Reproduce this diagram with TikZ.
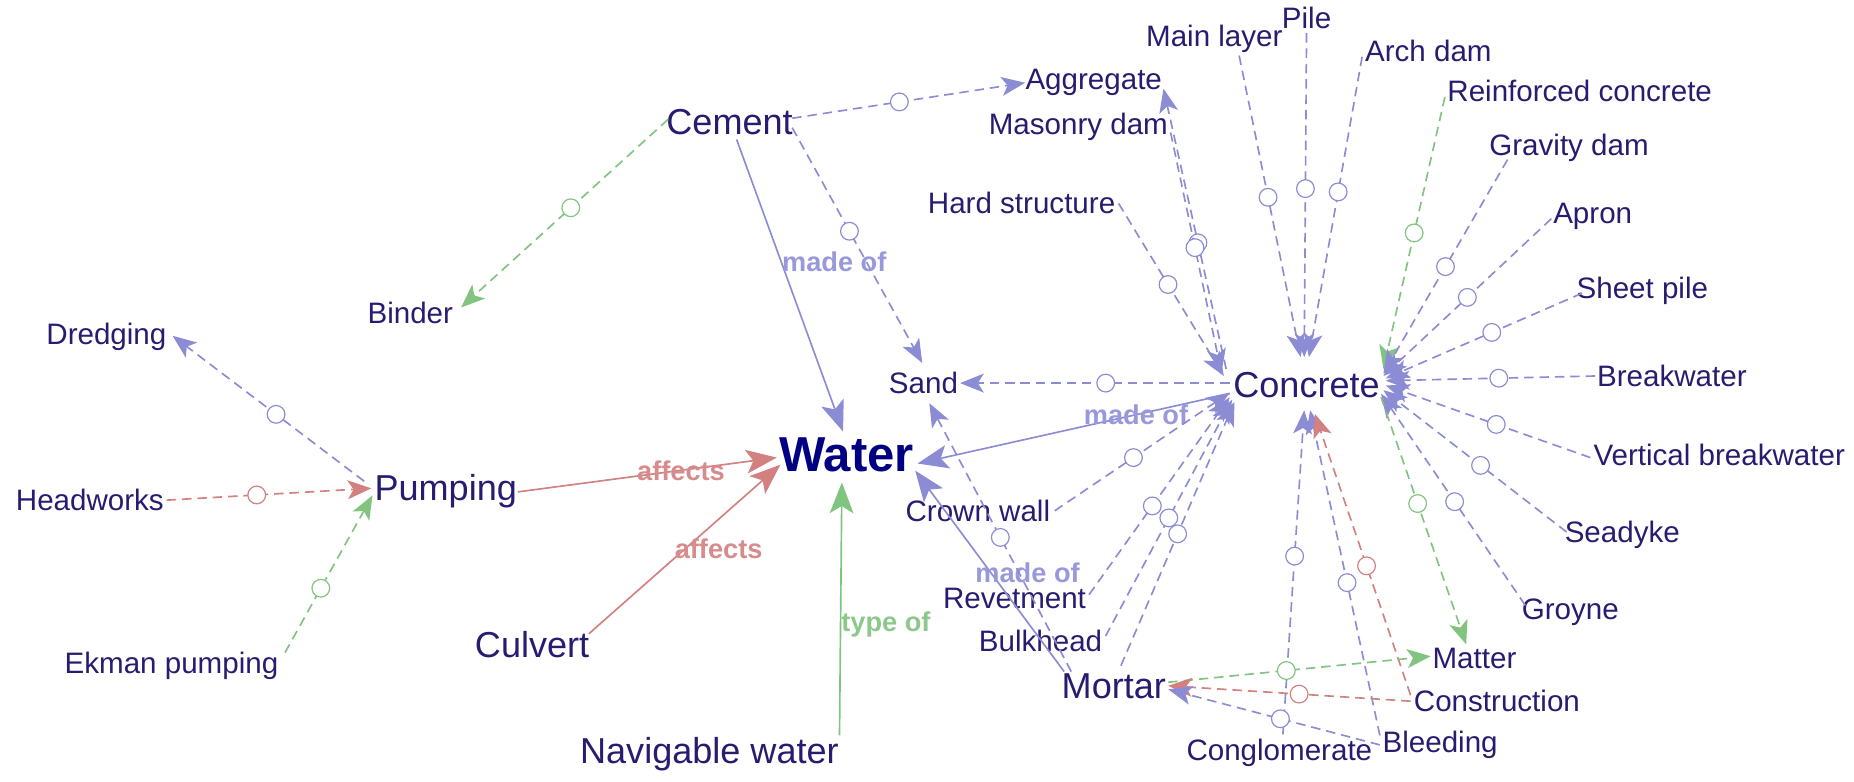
\documentclass[tikz,border=0pt]{standalone}
\usepackage{fontspec}
\setmainfont{Liberation Sans}
\usetikzlibrary{arrows.meta}
\definecolor{ink}{RGB}{40,28,112}
\definecolor{navy}{RGB}{0,0,128}
\definecolor{lav}{RGB}{140,140,212}
\definecolor{grn}{RGB}{128,196,128}
\definecolor{rd}{RGB}{210,128,128}
\definecolor{lavtxt}{RGB}{152,152,218}
\definecolor{grntxt}{RGB}{140,200,140}
\definecolor{rdtxt}{RGB}{214,140,140}
\begin{document}
\begin{tikzpicture}[x=1pt,y=-1pt,
  term/.style={text=ink, font=\fontsize{25}{27}\selectfont, inner sep=1pt},
  bigterm/.style={text=ink, font=\fontsize{30.5}{32}\selectfont, inner sep=1pt},
  hub/.style={text=navy, font=\fontsize{41.5}{43}\selectfont\bfseries, inner sep=1pt},
  rel/.style={draw=#1, line width=1.4pt, dash pattern=on 8pt off 5pt,
    -{Stealth[length=20pt,width=16pt,inset=5pt]}},
  link/.style={draw=#1, line width=1.4pt,
    -{Stealth[length=26pt,width=20pt,inset=6pt]}},
  mk/.style={circle, draw=#1, solid, fill=white, line width=1pt, inner sep=0pt, minimum size=15pt},
  elab/.style={text=#1, font=\fontsize{23}{25}\selectfont\bfseries, inner sep=0pt}
]
\useasboundingbox (0,0) rectangle (1568,661);

% ---- terms ----
\node[term]    (dredging)     at (90,285)   {Dredging};
\node[term]    (headworks)    at (76,423)   {Headworks};
\node[term]    (ekman)        at (145,563)  {Ekman pumping};
\node[bigterm] (pumping)      at (377,415)  {Pumping};
\node[term]    (binder)       at (347,265)  {Binder};
\node[bigterm] (cement)       at (617,103)  {Cement};
\node[bigterm] (culvert)      at (450,545)  {Culvert};
\node[bigterm] (navwater)     at (600,638)  {Navigable water};
\node[hub]     (water)        at (716,385)  {Water};
\node[term]    (aggregate)    at (925,70)   {Aggregate};
\node[term]    (masonry)      at (912,107)  {Masonry dam};
\node[term]    (hardstr)      at (864,172)  {Hard structure};
\node[term]    (sand)         at (781,324)  {Sand};
\node[term]    (mainlayer)    at (1027,33)  {Main layer};
\node[term]    (pile)         at (1105,15)  {Pile};
\node[term]    (archdam)      at (1208,43)  {Arch dam};
\node[term]    (reinf)        at (1336,77)  {Reinforced concrete};
\node[term]    (gravity)      at (1327,125) {Gravity dam};
\node[term]    (apron)        at (1347,183) {Apron};
\node[term]    (sheetpile)    at (1389,246) {Sheet pile};
\node[term]    (breakwater)   at (1414,318) {Breakwater};
\node[term]    (vertbw)       at (1454,385) {Vertical breakwater};
\node[term]    (seadyke)      at (1372,452) {Seadyke};
\node[term]    (groyne)       at (1328,518) {Groyne};
\node[bigterm] (concrete)     at (1105,326) {Concrete};
\node[term]    (crownwall)    at (827,432)  {Crown wall};
\node[term]    (revetment)    at (858,506)  {Revetment};
\node[term]    (bulkhead)     at (880,542)  {Bulkhead};
\node[bigterm] (mortar)       at (942,580)  {Mortar};
\node[term]    (matter)       at (1247,557) {Matter};
\node[term]    (construction) at (1266,593) {Construction};
\node[term]    (conglomerate) at (1082,637) {Conglomerate};
\node[term]    (bleeding)     at (1218,630) {Bleeding};

% ---- pumping cluster ----
\draw[rel=lav] ([shift={(-69,-8)}]pumping.center) -- node[mk=lav,pos=.46]{} ([shift={(56,-1)}]dredging.center);
\draw[rel=rd]  ([shift={(65,0)}]headworks.center) -- node[mk=rd,pos=.44]{} ([shift={(-63,-2)}]pumping.center);
\draw[rel=grn] ([shift={(96,-11)}]ekman.center) -- node[mk=grn,pos=.41]{} ([shift={(-62,4)}]pumping.center);

% ---- cement ----
\draw[rel=grn] ([shift={(-52,-2)}]cement.center) -- node[mk=grn,pos=.47]{} ([shift={(43,-5)}]binder.center);
\draw[rel=lav] ([shift={(53,-3)}]cement.center) -- node[mk=lav,pos=.46]{} ([shift={(-58,0)}]aggregate.center);
\draw[rel=lav] ([shift={(53,5)}]cement.center) -- node[mk=lav,pos=.44]{} ([shift={(-1,-17)}]sand.center);

% ---- links into Water ----
\draw[link=lav] ([shift={(6,15)}]cement.center) -- node[elab=lavtxt,pos=.42,anchor=west]{made of} ([shift={(-3,-20)}]water.center);
\draw[link=rd]  ([shift={(61,1)}]pumping.center) -- node[elab=rdtxt,pos=.63]{affects} ([shift={(-59,2)}]water.center);
\draw[link=rd]  ([shift={(48,-9)}]culvert.center) -- node[elab=rdtxt,pos=.5,anchor=west,xshift=-9pt]{affects} ([shift={(-56,8)}]water.center);
\draw[link=grn] ([shift={(110,-16)}]navwater.center) -- node[elab=grntxt,pos=.44,anchor=west]{type of} ([shift={(-4,23)}]water.center);
\draw[link=lav] ([shift={(-65,7)}]concrete.center) -- node[elab=lavtxt,pos=.3]{made of} ([shift={(60,7)}]water.center);
\draw[link=lav] ([shift={(-42,-12)}]mortar.center) -- node[elab=lavtxt,pos=.49,anchor=west,xshift=-14pt]{made of} ([shift={(58,13)}]water.center);

% ---- Sand ----
\draw[rel=lav] ([shift={(-65,-2)}]concrete.center) -- node[mk=lav,pos=.46]{} ([shift={(31,0)}]sand.center);
\draw[rel=lav] ([shift={(-36,-12)}]mortar.center) -- node[mk=lav,pos=.5]{} ([shift={(5,17)}]sand.center);

% ---- into Concrete from above / left ----
\draw[rel=lav] ([shift={(-68,-14)}]concrete.center) -- node[mk=lav,pos=.45]{} ([shift={(59,5)}]aggregate.center);
\draw[rel=lav] ([shift={(78,5)}]masonry.center) -- node[mk=lav,pos=.48]{} ([shift={(-72,-11)}]concrete.center);
\draw[rel=lav] ([shift={(82,0)}]hardstr.center) -- node[mk=lav,pos=.47]{} ([shift={(-70,-8)}]concrete.center);
\draw[rel=lav] ([shift={(21,14)}]mainlayer.center) -- node[mk=lav,pos=.47]{} ([shift={(-5,-24)}]concrete.center);
\draw[rel=lav] ([shift={(0,13)}]pile.center) -- node[mk=lav,pos=.48]{} ([shift={(-2,-24)}]concrete.center);
\draw[rel=lav] ([shift={(-56,5)}]archdam.center) -- node[mk=lav,pos=.45]{} ([shift={(2,-24)}]concrete.center);

% ---- into Concrete from the right ----
\draw[rel=grn] ([shift={(-114,5)}]reinf.center) -- node[mk=grn,pos=.5]{} ([shift={(65,-14)}]concrete.center);
\draw[rel=lav] ([shift={(-52,10)}]gravity.center) -- node[mk=lav,pos=.5]{} ([shift={(65,-10)}]concrete.center);
\draw[rel=lav] ([shift={(-35,2)}]apron.center) -- node[mk=lav,pos=.5]{} ([shift={(65,-8)}]concrete.center);
\draw[rel=lav] ([shift={(-51,2)}]sheetpile.center) -- node[mk=lav,pos=.46]{} ([shift={(67,-6)}]concrete.center);
\draw[rel=lav] ([shift={(-65,0)}]breakwater.center) -- node[mk=lav,pos=.46]{} ([shift={(67,-4)}]concrete.center);
\draw[rel=lav] ([shift={(-109,2)}]vertbw.center) -- node[mk=lav,pos=.46]{} ([shift={(67,0)}]concrete.center);
\draw[rel=lav] ([shift={(-47,-2)}]seadyke.center) -- node[mk=lav,pos=.47]{} ([shift={(65,4)}]concrete.center);
\draw[rel=lav] ([shift={(-38,-6)}]groyne.center) -- node[mk=lav,pos=.49]{} ([shift={(63,7)}]concrete.center);
\draw[rel=grn] ([shift={(63,10)}]concrete.center) -- node[mk=grn,pos=.43]{} ([shift={(-7,-12)}]matter.center);

% ---- into Concrete from lower left ----
\draw[rel=lav] ([shift={(65,0)}]crownwall.center) -- node[mk=lav,pos=.45]{} ([shift={(-65,6)}]concrete.center);
\draw[rel=lav] ([shift={(63,-3)}]revetment.center) -- node[mk=lav,pos=.45]{} ([shift={(-65,10)}]concrete.center);
\draw[rel=lav] ([shift={(55,-4)}]bulkhead.center) -- node[mk=lav,pos=.5]{} ([shift={(-63,12)}]concrete.center);
\draw[rel=lav] ([shift={(6,-17)}]mortar.center) -- node[mk=lav,pos=.5]{} ([shift={(-61,14)}]concrete.center);

% ---- into Concrete from below ----
\draw[rel=lav] ([shift={(3,-16)}]conglomerate.center) -- node[mk=lav,pos=.55]{} ([shift={(-2,21)}]concrete.center);
\draw[rel=lav] ([shift={(-51,-8)}]bleeding.center) -- node[mk=lav,pos=.47]{} ([shift={(3,21)}]concrete.center);
\draw[rel=rd]  ([shift={(-73,-5)}]construction.center) -- node[mk=rd,pos=.46]{} ([shift={(7,24)}]concrete.center);

% ---- Mortar ----
\draw[rel=grn] ([shift={(46,-3)}]mortar.center) -- node[mk=grn,pos=.45]{} ([shift={(-37,-2)}]matter.center);
\draw[rel=rd]  ([shift={(-73,0)}]construction.center) -- node[mk=rd,pos=.46]{} ([shift={(46,0)}]mortar.center);
\draw[rel=lav] ([shift={(-51,0)}]bleeding.center) -- node[mk=lav,pos=.47]{} ([shift={(46,3)}]mortar.center);
\end{tikzpicture}
\end{document}
